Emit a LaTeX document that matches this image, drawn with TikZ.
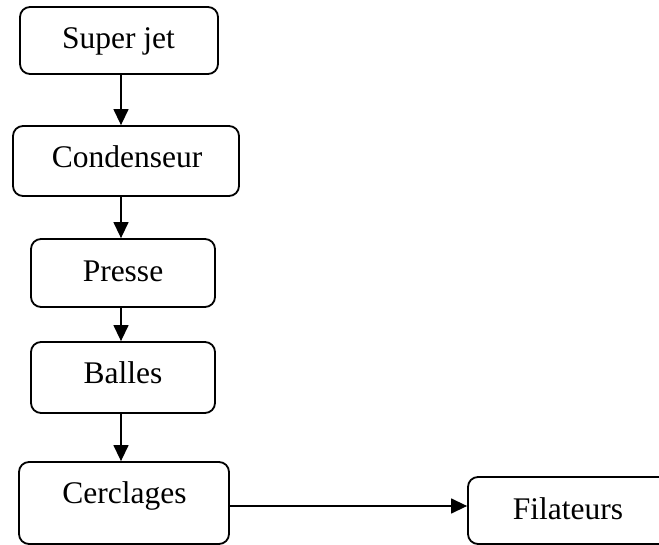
\documentclass[tikz,border=0pt]{standalone}
\usepackage{fontspec}
\setmainfont{Liberation Serif}
\usetikzlibrary{arrows.meta}
\begin{document}
\begin{tikzpicture}[x=1pt,y=-1pt,
  box/.style={draw=black, line width=1.8pt, rounded corners=10pt},
  lbl/.style={anchor=base, inner sep=0pt, font=\fontsize{31.5}{36}\selectfont},
  conn/.style={line width=1.4pt, -{Triangle[length=16pt,width=15pt]}}]
\useasboundingbox (0,0) rectangle (659,545);
\clip (0,0) rectangle (659,545);
\fill[white] (0,0) rectangle (659,545);
% boxes
\node[box, minimum width=198pt, minimum height=67pt] (sj) at (119,40.5) {};
\node[box, minimum width=226pt, minimum height=70pt] (cd) at (126,161) {};
\node[box, minimum width=184pt, minimum height=68pt] (pr) at (123,273) {};
\node[box, minimum width=184pt, minimum height=71pt] (ba) at (123,377.5) {};
\node[box, minimum width=210pt, minimum height=82pt] (ce) at (124,503) {};
\node[box, minimum width=240pt, minimum height=67pt] (fi) at (588,510.5) {};
% labels
\node[lbl] (tsj) at (118.5,49) {Super jet};
\node[lbl] (tcd) at (127,168) {Condenseur};
\node[lbl] (tpr) at (123,282) {Presse};
\node[lbl] (tba) at (123,384) {Balles};
\node[lbl] (tce) at (124.5,503) {Cerclages};
\node[lbl] (tfi) at (568,519) {Filateurs};
% connectors
\coordinate (ax) at (121,0);
\coordinate (ay) at (0,506);
\draw[conn] (sj.south -| ax) -- (cd.north -| ax);
\draw[conn] (cd.south -| ax) -- (pr.north -| ax);
\draw[conn] (pr.south -| ax) -- (ba.north -| ax);
\draw[conn] (ba.south -| ax) -- (ce.north -| ax);
\draw[conn] (ce.east |- ay) -- (fi.west |- ay);
\end{tikzpicture}
\end{document}
